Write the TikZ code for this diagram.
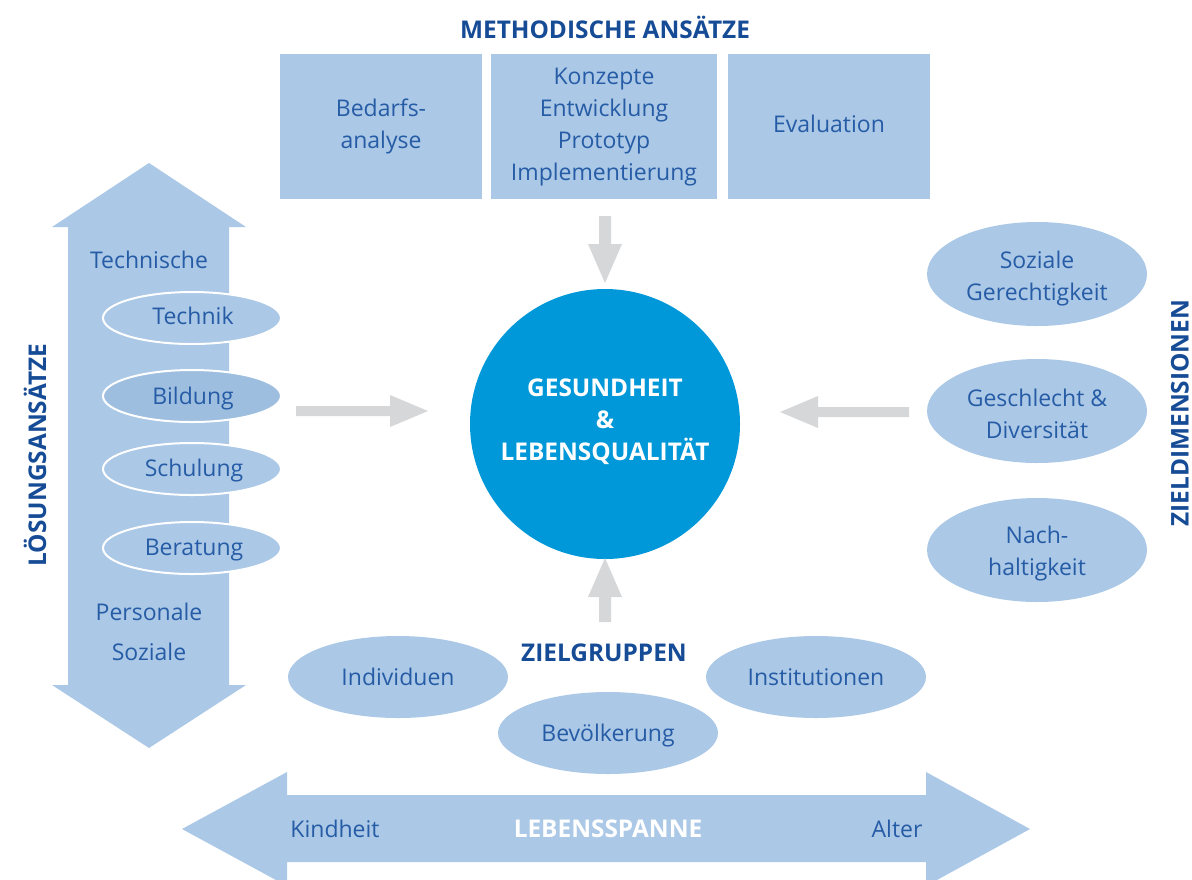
\documentclass[tikz,border=0pt]{standalone}
\usepackage{fontspec}
\setmainfont{Open Sans}
\usetikzlibrary{shapes.geometric}
\definecolor{lblue}{RGB}{171,200,230}
\definecolor{mblue}{RGB}{158,190,224}
\definecolor{txtblue}{RGB}{38,92,166}
\definecolor{ttlblue}{RGB}{22,75,150}
\definecolor{circblue}{RGB}{0,152,216}
\definecolor{arrgray}{RGB}{214,215,217}
\tikzset{
  body/.style={text=txtblue, font=\fontsize{11.5}{16}\selectfont, align=center, inner sep=0pt},
  ttl/.style={text=ttlblue, font=\bfseries\fontsize{12.2}{14}\selectfont, inner sep=0pt},
  mbox/.style={fill=lblue, minimum width=101pt, minimum height=72.5pt, inner sep=0pt},
  smallell/.style={ellipse, fill=lblue, draw=white, line width=1pt, minimum width=89pt, minimum height=26pt, inner sep=0pt},
  bigell/.style={ellipse, fill=lblue, minimum width=110pt, minimum height=52pt, inner sep=0pt},
  grpell/.style={ellipse, fill=lblue, minimum width=110pt, minimum height=41pt, inner sep=0pt},
  grayarrow/.style={fill=arrgray},
}
\begin{document}
\begin{tikzpicture}[x=0.5pt,y=-0.5pt]
\useasboundingbox (0,0) rectangle (1192,879);
\clip (0,0) rectangle (1192,879);

% title
\node[ttl] (mtitle) at (605,27) {METHODISCHE ANSÄTZE};
% boxes
\node[mbox] (b1) at (381,126.5) {};
\node[mbox, minimum width=113pt] (b2) at (604,126.5) {};
\node[mbox] (b3) at (829,126.5) {};
\node[body] (b1t) at ([yshift=0pt]b1.center) {Bedarfs-\\analyse};
\node[body] (b2t) at ([yshift=-0.5pt]b2.center) {Konzepte\\Entwicklung\\Prototyp\\Implementierung};
\node[body] (b3t) at ([yshift=1.5pt]b3.center) {Evaluation};

% vertical double arrow
\fill[lblue] (149,163) -- (246,227) -- (229,227) -- (229,685) -- (246,685) -- (149,748)
  -- (52,685) -- (68,685) -- (68,227) -- (52,227) -- cycle;
\node[body] (tech) at (149,260) {Technische};
\node[body] (pers) at (149,612) {Personale};
\node[body] (soz) at (149,652) {Soziale};
\node[smallell] (e1) at (192,318) {};
\node[smallell, fill=mblue] (e2) at (192,396) {};
\node[smallell] (e3) at (192,469) {};
\node[smallell] (e4) at (192,548) {};
\node[body] (e1t) at ([xshift=0.5pt,yshift=1pt]e1.center) {Technik};
\node[body] (e2t) at ([xshift=0.5pt,yshift=-1.5pt]e2.center) {Bildung};
\node[body] (e3t) at ([xshift=1pt,yshift=-1pt]e3.center) {Schulung};
\node[body] (e4t) at ([xshift=1pt,yshift=-1pt]e4.center) {Beratung};
\node[ttl, rotate=90] (loes) at (35,455) {LÖSUNGSANSÄTZE};

% circle
\node[circle, fill=circblue, minimum size=135pt, inner sep=0pt] (c) at (605,424) {};
\node[text=white, font=\bfseries\fontsize{12.2}{16}\selectfont, align=center, inner sep=0pt] (ctext) at ([yshift=1pt]c.center) {GESUNDHEIT\\\&\\LEBENSQUALITÄT};

% gray arrows
\fill[grayarrow] (599,216) -- (611,216) -- (611,244) -- (622,244) -- (605,283) -- (588,244) -- (599,244) -- cycle;
\fill[grayarrow] (296,406) -- (390,406) -- (390,395) -- (428,411) -- (390,427) -- (390,416) -- (296,416) -- cycle;
\fill[grayarrow] (909,407) -- (818,407) -- (818,396) -- (780,412) -- (818,428) -- (818,417) -- (909,417) -- cycle;
\fill[grayarrow] (599,622) -- (611,622) -- (611,597) -- (622,597) -- (605,558) -- (588,597) -- (599,597) -- cycle;

% right ellipses
\node[bigell] (z1) at (1037,274) {};
\node[bigell] (z2) at (1037,411) {};
\node[bigell] (z3) at (1037,550) {};
\node[body] (z1t) at ([yshift=-2.5pt]z1.center) {Soziale\\Gerechtigkeit};
\node[body] (z2t) at ([yshift=-1.5pt]z2.center) {Geschlecht \&\\Diversität};
\node[body] (z3t) at ([yshift=-2pt]z3.center) {Nach-\\haltigkeit};
\node[ttl, rotate=90] (ziel) at (1180,413) {ZIELDIMENSIONEN};

% target groups
\node[ttl] (zg) at (604,653) {ZIELGRUPPEN};
\node[grpell] (g1) at (398,677) {};
\node[grpell] (g3) at (816,677) {};
\node[grpell] (g2) at (608,733) {};
\node[body] (g1t) at (g1.center) {Individuen};
\node[body] (g3t) at (g3.center) {Institutionen};
\node[body] (g2t) at ([yshift=-1.5pt]g2.center) {Bevölkerung};

% horizontal double arrow
\fill[lblue] (182,829) -- (287,772) -- (287,795) -- (926,795) -- (926,772) -- (1030,829)
  -- (926,886) -- (926,862) -- (287,862) -- (287,886) -- cycle;
\node[body] (kind) at (335,829) {Kindheit};
\node[body] (alt) at (897,829) {Alter};
\node[ttl, text=white] (ls) at (608,829) {LEBENSSPANNE};
\end{tikzpicture}
\end{document}
